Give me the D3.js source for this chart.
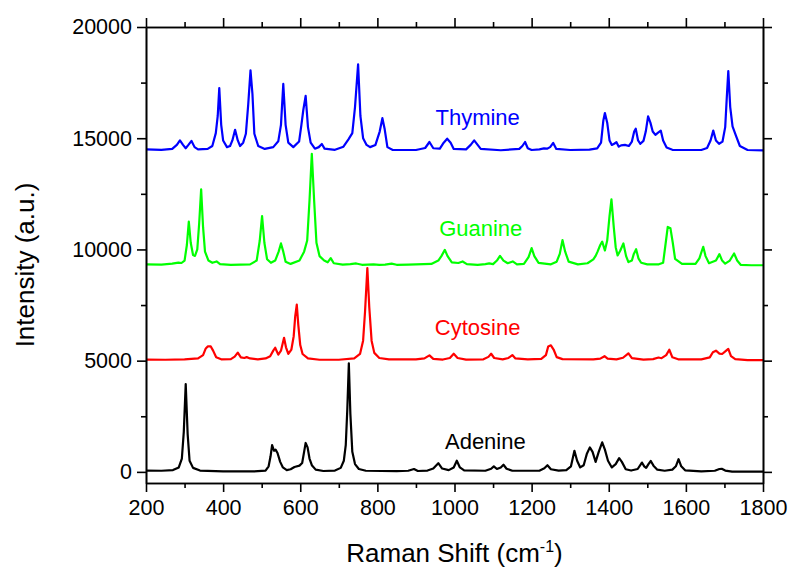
<!DOCTYPE html>
<html>
<head>
<meta charset="utf-8">
<script src="https://cdn.jsdelivr.net/npm/d3@7"></script>
<style>
  html, body { margin: 0; padding: 0; background: #fff; }
  svg { display: block; font-family: "Liberation Sans", Arial, sans-serif; }
</style>
</head>
<body>
<svg id="chart" width="789" height="567"></svg>
<script>
// ---- Data (Raman shift cm-1, intensity a.u.) ----
const adenine = [[200,60],[240,50],[270,80],[285,200],[293,600],[298,1800],[303,3950],[308,1700],[313,500],[322,180],[340,60],[400,20],[480,20],[510,60],[518,250],[523,700],[527,1200],[532,950],[536,1000],[541,850],[548,450],[555,200],[565,80],[575,120],[585,220],[598,280],[605,400],[610,900],[614,1300],[619,1100],[624,600],[630,300],[640,100],[660,40],[690,60],[705,180],[713,500],[718,1200],[722,2800],[726,4880],[730,2600],[735,900],[742,350],[752,130],[770,50],[850,30],[880,50],[895,130],[905,40],[930,60],[945,150],[958,390],[968,150],[985,80],[998,200],[1006,500],[1014,200],[1025,70],[1080,50],[1095,140],[1102,250],[1110,130],[1120,200],[1127,320],[1135,140],[1150,50],[1220,50],[1233,160],[1241,300],[1250,120],[1270,60],[1290,80],[1302,250],[1311,950],[1318,500],[1326,200],[1335,300],[1343,800],[1351,1100],[1358,900],[1366,450],[1374,900],[1383,1330],[1390,1000],[1398,500],[1408,200],[1418,350],[1427,620],[1434,450],[1444,120],[1458,60],[1475,130],[1486,420],[1492,250],[1497,180],[1503,350],[1509,490],[1516,280],[1526,100],[1545,50],[1565,100],[1574,250],[1581,570],[1588,250],[1598,70],[1640,20],[1675,50],[1687,130],[1693,140],[1702,60],[1720,10],[1800,10]];

const cytosine = [[200,5050],[250,5040],[300,5060],[335,5100],[348,5250],[355,5550],[360,5640],[368,5640],[374,5450],[382,5150],[395,5060],[420,5070],[430,5180],[438,5360],[446,5150],[455,5120],[461,5160],[470,5100],[490,5060],[510,5100],[522,5200],[530,5450],[535,5580],[543,5270],[550,5450],[558,6030],[563,5600],[569,5300],[577,5500],[583,6100],[587,7000],[591,7520],[595,6600],[600,5700],[606,5300],[620,5100],[650,5040],[700,5040],[740,5100],[755,5300],[763,5900],[768,7200],[774,9160],[779,7400],[785,5900],[792,5350],[805,5120],[830,5060],[900,5060],[922,5100],[935,5240],[945,5080],[970,5050],[988,5120],[998,5310],[1008,5120],[1030,5050],[1075,5060],[1088,5170],[1095,5310],[1103,5120],[1125,5060],[1140,5120],[1150,5250],[1158,5100],[1190,5060],[1225,5080],[1237,5250],[1243,5640],[1250,5690],[1257,5500],[1265,5160],[1280,5070],[1360,5060],[1378,5090],[1389,5200],[1397,5090],[1420,5060],[1437,5130],[1451,5330],[1460,5110],[1490,5050],[1515,5070],[1529,5140],[1537,5110],[1549,5250],[1557,5490],[1565,5150],[1580,5060],[1640,5060],[1662,5150],[1670,5380],[1678,5450],[1687,5320],[1694,5300],[1703,5430],[1710,5530],[1717,5200],[1728,5070],[1760,5020],[1800,5020]];

const guanine = [[200,9330],[240,9320],[268,9360],[284,9410],[292,9390],[300,9500],[306,10200],[311,11250],[316,10300],[322,9750],[327,9710],[333,10000],[338,11200],[343,12700],[348,11000],[353,9900],[362,9500],[372,9400],[383,9460],[392,9340],[420,9310],[470,9330],[487,9500],[495,10400],[501,11500],[507,10300],[514,9560],[524,9400],[535,9500],[544,9900],[550,10270],[556,9900],[562,9450],[575,9350],[598,9500],[610,9900],[618,10400],[624,12200],[630,14300],[636,12200],[642,10300],[650,9700],[662,9500],[671,9420],[679,9610],[687,9380],[710,9320],[730,9340],[745,9370],[760,9310],[790,9330],[805,9310],[820,9320],[837,9360],[850,9310],[880,9320],[940,9350],[958,9500],[966,9700],[975,9980],[982,9700],[993,9420],[1010,9390],[1021,9460],[1032,9340],[1060,9310],[1080,9340],[1090,9370],[1100,9340],[1110,9500],[1118,9710],[1127,9500],[1138,9380],[1151,9460],[1162,9330],[1180,9350],[1192,9650],[1200,10060],[1207,9700],[1218,9400],[1250,9330],[1265,9450],[1273,9800],[1280,10420],[1287,9900],[1296,9450],[1320,9330],[1345,9380],[1360,9550],[1366,9710],[1371,9900],[1378,10200],[1383,10350],[1390,9950],[1396,10400],[1402,11500],[1407,12250],[1413,11000],[1418,10100],[1423,9730],[1430,9950],[1438,10270],[1445,9700],[1451,9430],[1460,9500],[1465,9800],[1471,10010],[1477,9600],[1484,9400],[1500,9330],[1530,9330],[1541,9400],[1547,10200],[1553,11010],[1560,10950],[1566,10300],[1572,9580],[1590,9350],[1625,9350],[1635,9600],[1645,10120],[1651,9700],[1660,9380],[1678,9500],[1687,9790],[1694,9500],[1702,9360],[1714,9500],[1725,9820],[1733,9500],[1742,9310],[1770,9290],[1800,9290]];

const thymine = [[200,14500],[240,14480],[268,14520],[280,14700],[288,14900],[296,14700],[303,14550],[310,14700],[318,14880],[326,14600],[335,14500],[360,14520],[372,14650],[381,15230],[386,16000],[390,17250],[395,15600],[400,14900],[410,14600],[418,14650],[424,14900],[431,15380],[438,14900],[444,14650],[452,14800],[459,15200],[465,16500],[471,18050],[476,17000],[481,15200],[491,14650],[508,14520],[530,14600],[543,14860],[550,15600],[556,17440],[562,15600],[569,14800],[582,14600],[597,14850],[603,15600],[608,16280],[614,16900],[620,15500],[627,14800],[638,14530],[648,14600],[656,14740],[663,14530],[690,14480],[712,14620],[725,14950],[735,15230],[742,16400],[750,18320],[756,16000],[763,15000],[772,14700],[781,14600],[795,14700],[806,15300],[813,15900],[819,15400],[826,14600],[840,14470],[900,14470],[924,14560],[935,14830],[945,14550],[962,14530],[972,14800],[981,14980],[990,14800],[998,14520],[1030,14500],[1042,14700],[1051,14900],[1060,14700],[1068,14520],[1120,14460],[1168,14520],[1176,14650],[1183,14830],[1190,14550],[1200,14470],[1220,14500],[1232,14540],[1240,14530],[1248,14600],[1256,14790],[1264,14520],[1300,14470],[1350,14490],[1370,14540],[1380,14800],[1386,15800],[1390,16130],[1396,15700],[1402,14900],[1408,14700],[1414,14750],[1420,14820],[1426,14620],[1432,14680],[1442,14700],[1452,14650],[1460,14850],[1466,15300],[1470,15430],[1476,14900],[1482,14750],[1490,14880],[1496,15300],[1502,15980],[1508,15700],[1514,15300],[1521,15150],[1528,15250],[1535,15340],[1541,14900],[1550,14580],[1565,14480],[1640,14470],[1655,14560],[1664,14900],[1671,15340],[1678,14900],[1686,14750],[1695,14850],[1702,15500],[1706,16800],[1710,18020],[1715,16400],[1721,15530],[1730,15100],[1740,14650],[1760,14470],[1800,14450]];

const seriesNames = ["Adenine", "Cytosine", "Guanine", "Thymine"];
const seriesData = [adenine, cytosine, guanine, thymine];
const seriesColors = ["#000000", "#ff0000", "#00ff00", "#0000ff"];
// label anchor positions in data units (x = Raman shift, y = intensity)
const labelX = [1080, 1060, 1068, 1060];
const labelY = [1050, 6150, 10600, 15600];

const xTicks = [200, 400, 600, 800, 1000, 1200, 1400, 1600, 1800];
const xMinorTicks = [300, 500, 700, 900, 1100, 1300, 1500, 1700];
const yTicks = [0, 5000, 10000, 15000, 20000];
const yMinorTicks = [2500, 7500, 12500, 17500];

const xTitle = "Raman Shift (cm";
const xTitleSup = "-1";
const yTitle = "Intensity (a.u.)";

// ---- Drawing ----
const svg = d3.select("#chart");
const pL = 146, pR = 763, pT = 27, pB = 483;

const x = d3.scaleLinear().domain([200, 1800]).range([pL, pR]);
const y = d3.scaleLinear().domain([-500, 20000]).range([pB, pT]);

const line = d3.line().x(d => x(d[0])).y(d => y(d[1])).curve(d3.curveLinear);

const plot = svg.append("g");
seriesData.forEach((s, i) => {
  plot.append("path")
    .datum(s)
    .attr("fill", "none")
    .attr("stroke", seriesColors[i])
    .attr("stroke-width", 2.2)
    .attr("stroke-linejoin", "round")
    .attr("d", line);
});

function styleAxis(g) {
  g.selectAll(".domain").attr("stroke", "#000").attr("stroke-width", 1.6);
  g.selectAll(".tick line").attr("stroke", "#000").attr("stroke-width", 1.6);
  g.selectAll("text").attr("font-size", 21.5).attr("fill", "#000")
    .attr("font-family", '"Liberation Sans", Arial, sans-serif');
}

// bottom
const gB = svg.append("g").attr("transform", `translate(0,${pB})`)
  .call(d3.axisBottom(x).tickValues(xTicks).tickSize(9).tickSizeOuter(0).tickPadding(8).tickFormat(d3.format("d")));
styleAxis(gB);
const gBm = svg.append("g").attr("transform", `translate(0,${pB})`)
  .call(d3.axisBottom(x).tickValues(xMinorTicks).tickSize(5).tickSizeOuter(0).tickFormat(""));
styleAxis(gBm);

// top
const gT = svg.append("g").attr("transform", `translate(0,${pT})`)
  .call(d3.axisTop(x).tickValues(xTicks).tickSize(9).tickSizeOuter(0).tickFormat(""));
styleAxis(gT);
const gTm = svg.append("g").attr("transform", `translate(0,${pT})`)
  .call(d3.axisTop(x).tickValues(xMinorTicks).tickSize(5).tickSizeOuter(0).tickFormat(""));
styleAxis(gTm);

// left
const gL = svg.append("g").attr("transform", `translate(${pL},0)`)
  .call(d3.axisLeft(y).tickValues(yTicks).tickSize(9).tickSizeOuter(0).tickPadding(5).tickFormat(d3.format("d")));
styleAxis(gL);
const gLm = svg.append("g").attr("transform", `translate(${pL},0)`)
  .call(d3.axisLeft(y).tickValues(yMinorTicks).tickSize(5).tickSizeOuter(0).tickFormat(""));
styleAxis(gLm);

// right
const gR = svg.append("g").attr("transform", `translate(${pR},0)`)
  .call(d3.axisRight(y).tickValues(yTicks).tickSize(9).tickSizeOuter(0).tickFormat(""));
styleAxis(gR);
const gRm = svg.append("g").attr("transform", `translate(${pR},0)`)
  .call(d3.axisRight(y).tickValues(yMinorTicks).tickSize(5).tickSizeOuter(0).tickFormat(""));
styleAxis(gRm);

// series labels
seriesNames.forEach((n, i) => {
  svg.append("text")
    .attr("x", x(labelX[i]))
    .attr("y", y(labelY[i]))
    .attr("text-anchor", "middle")
    .attr("font-size", 22)
    .attr("fill", seriesColors[i])
    .text(n);
});

// axis titles
const xt = svg.append("text")
  .attr("x", (pL + pR) / 2)
  .attr("y", 562)
  .attr("text-anchor", "middle")
  .attr("font-size", 26)
  .attr("fill", "#000");
xt.append("tspan").text(xTitle);
xt.append("tspan").attr("font-size", 16).attr("dy", -10).text(xTitleSup);
xt.append("tspan").attr("dy", 10).text(")");

svg.append("text")
  .attr("transform", `translate(34,${(pT + pB) / 2 + 10}) rotate(-90)`)
  .attr("text-anchor", "middle")
  .attr("font-size", 26)
  .attr("fill", "#000")
  .text(yTitle);
</script>
</body>
</html>
